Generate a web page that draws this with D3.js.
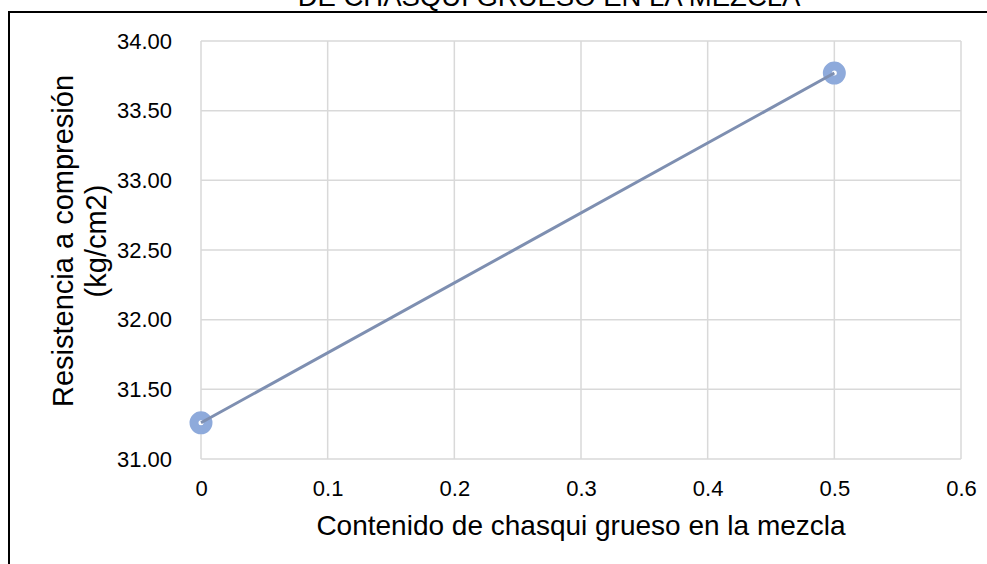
<!DOCTYPE html>
<html>
<head>
<meta charset="utf-8">
<script src="https://cdn.jsdelivr.net/npm/d3@7"></script>
<style>
  html, body { margin: 0; padding: 0; background: #fff; overflow: hidden; }
  svg { display: block; font-family: "Liberation Sans", Arial, sans-serif; }
</style>
</head>
<body>
<svg id="chart" width="987" height="564"></svg>
<script>
// Compressive strength vs. coarse chasqui content
const contenido = [0, 0.5];
const resistencia = [31.26, 33.77];
const xTicks = [0, 0.1, 0.2, 0.3, 0.4, 0.5, 0.6];
const yTicks = [31.00, 31.50, 32.00, 32.50, 33.00, 33.50, 34.00];
const titleText = "DE CHASQUI GRUESO EN LA MEZCLA";
const xTitle = "Contenido de chasqui grueso en la mezcla";
const yTitleLines = ["Resistencia a compresión", "(kg/cm2)"];

const svg = d3.select("#chart");
const plot = { left: 201, right: 961, top: 41, bottom: 459 };

const x = d3.scaleLinear().domain([0, 0.6]).range([plot.left, plot.right]);
const y = d3.scaleLinear().domain([31, 34]).range([plot.bottom, plot.top]);

// Outer chart frame
svg.append("rect")
  .attr("x", 9).attr("y", 12)
  .attr("width", 1200).attr("height", 700)
  .attr("fill", "none").attr("stroke", "#000").attr("stroke-width", 2);

// Title (last line of the chart title)
svg.append("text")
  .attr("x", 549).attr("y", 6)
  .attr("text-anchor", "middle")
  .attr("font-size", 27.5)
  .attr("fill", "#000")
  .text(titleText);

// Gridlines
const grid = svg.append("g").attr("stroke", "#d9d9d9").attr("stroke-width", 1.5);
grid.selectAll("line.v").data(xTicks).join("line")
  .attr("class", "v")
  .attr("x1", d => x(d)).attr("x2", d => x(d))
  .attr("y1", plot.top).attr("y2", plot.bottom);
grid.selectAll("line.h").data(yTicks).join("line")
  .attr("class", "h")
  .attr("x1", plot.left).attr("x2", plot.right)
  .attr("y1", d => y(d)).attr("y2", d => y(d));

// Axes (labels only)
const xAxis = svg.append("g")
  .attr("transform", `translate(0,${plot.bottom})`)
  .call(d3.axisBottom(x).tickValues(xTicks).tickSize(0).tickPadding(21).tickFormat(d => d3.format("")(d)));
const yAxis = svg.append("g")
  .attr("transform", `translate(${plot.left},0)`)
  .call(d3.axisLeft(y).tickValues(yTicks).tickSize(0).tickPadding(29).tickFormat(d3.format(".2f")));
[xAxis, yAxis].forEach(a => {
  a.select(".domain").remove();
  a.selectAll("text").attr("font-size", 22).attr("fill", "#000")
    .attr("font-family", "'Liberation Sans', Arial, sans-serif");
});

// Axis titles
svg.append("text")
  .attr("x", 581).attr("y", 535)
  .attr("text-anchor", "middle")
  .attr("font-size", 28).attr("fill", "#000")
  .text(xTitle);

const yt = svg.append("text")
  .attr("transform", `translate(73,241) rotate(-90)`)
  .attr("text-anchor", "middle")
  .attr("font-size", 29).attr("fill", "#000");
yt.selectAll("tspan").data(yTitleLines).join("tspan")
  .attr("x", 0).attr("dy", (d, i) => i === 0 ? 0 : 33)
  .text(d => d);

// Series
const pts = contenido.map((c, i) => [c, resistencia[i]]);

svg.append("g").selectAll("circle").data(pts).join("circle")
  .attr("cx", d => x(d[0])).attr("cy", d => y(d[1]))
  .attr("r", 7)
  .attr("fill", "#fff")
  .attr("stroke", "#8eaadb")
  .attr("stroke-width", 9);

svg.append("path")
  .datum(pts)
  .attr("fill", "none")
  .attr("stroke", "#7e8fb1")
  .attr("stroke-width", 3)
  .attr("d", d3.line().x(d => x(d[0])).y(d => y(d[1])));
</script>
</body>
</html>
